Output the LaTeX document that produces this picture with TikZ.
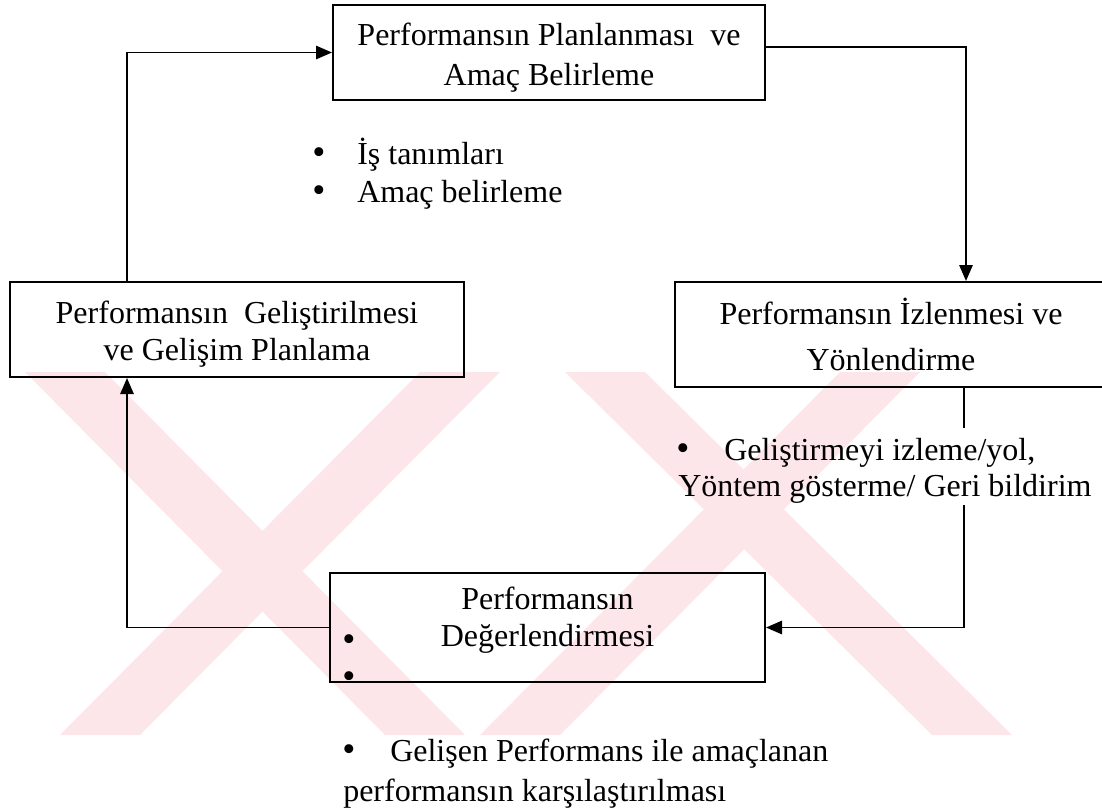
\documentclass[tikz,border=0pt]{standalone}
\usepackage{fontspec}
\setmainfont{Liberation Serif}
\usetikzlibrary{arrows.meta}
\definecolor{wm}{RGB}{253,230,234}
\tikzset{
  box/.style={draw, line width=1.5pt, inner sep=0pt, align=center,
    font=\fontsize{24}{28}\selectfont},
  txt/.style={inner sep=0pt, font=\fontsize{24}{28}\selectfont,
    text height=0.7em, text depth=0.2em, anchor=west},
  bul/.style={inner sep=0pt, font=\fontsize{28}{28}\selectfont,
    text height=0.7em, text depth=0.2em},
  conn/.style={line width=1.4pt},
  arr/.style={conn, -{Triangle[length=12pt,width=10pt]}},
  wmark/.style={fill=wm, draw=none},
}
\begin{document}
\begin{tikzpicture}[x=0.75pt,y=-0.75pt]
\useasboundingbox (0,0) rectangle (1102,808);
% watermark (faint)
\fill[wmark] (25,372) -- (105,372) -- (465,735) -- (385,735) -- cycle;
\fill[wmark] (60,735) -- (140,735) -- (500,372) -- (420,372) -- cycle;
\fill[wmark] (565,372) -- (645,372) -- (1012,735) -- (932,735) -- cycle;
\fill[wmark] (480,735) -- (560,735) -- (920,372) -- (840,372) -- cycle;

% boxes
\node[box, minimum width=324pt, minimum height=71.25pt] (top) at (549,52.5)
  {\mbox{}\\[-3.5pt]Performansın Planlanması\ \ ve\\[2pt]Amaç Belirleme};
\node[box, minimum width=340.5pt, minimum height=71.25pt] (left) at (237,329.5)
  {\mbox{}\\[-4pt]Performansın\ \ Geliştirilmesi\\ve Gelişim Planlama};
\node[box, minimum width=324pt, minimum height=78.75pt] (right) at (891,334.5)
  {Performansın İzlenmesi ve\\[7pt]Yönlendirme};
\node[box, minimum width=326.25pt, minimum height=81.75pt] (bottom) at (547.5,627.5)
  {Performansın\\Değerlendirmesi\\[-12pt]\mbox{}};
\node[bul] (bb1) at (349,648) {•};
\node[bul] (bb2) at (349,685) {•};

% free texts
\node[bul] (ta) at (319,161) {•};
\node[txt] (tat) at (357,161) {İş tanımları};
\node[bul] (tb) at (319,199) {•};
\node[txt] (tbt) at (357,199) {Amaç belirleme};

\node[bul] (ra) at (683,457) {•};
\node[txt] (rat) at (724,457) {Geliştirmeyi izleme/yol,};
\node[txt] (rbt) at (678,493) {Yöntem gösterme/ Geri bildirim};

\node[bul] (ba) at (349,758) {•};
\node[txt] (bat) at (390,758) {Gelişen Performans ile amaçlanan};
\node[txt] (bbt) at (343,798) {performansın karşılaştırılması};

% connector coordinates
\coordinate (cr) at (966,47);
\coordinate (cl) at (127,52.5);
\coordinate (g1) at (964,428);
\coordinate (g2) at (964,505);

% connectors
\draw[arr] (top.east |- cr) -| (cr |- right.north);
\draw[arr] (cl |- left.north) |- (top.west);
\draw[conn] (g1 |- right.south) -- (g1);
\draw[arr] (g2) |- (bottom.east);
\draw[arr] (bottom.west) -| (cl |- left.south);
\end{tikzpicture}
\end{document}
